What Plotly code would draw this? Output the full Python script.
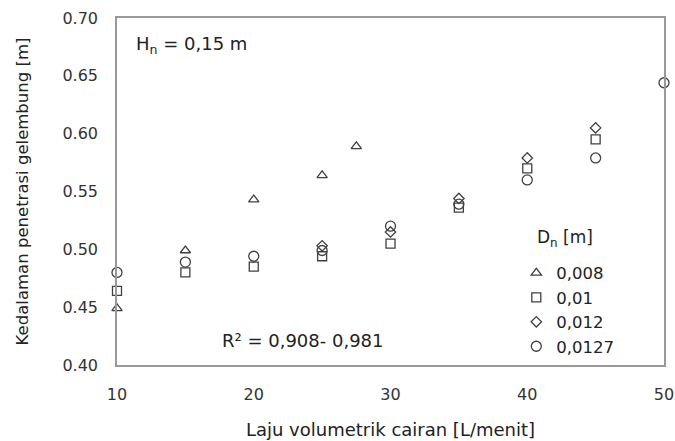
import plotly.graph_objects as go

x_008 = [10, 15, 20, 25, 27.5]
y_008 = [0.449, 0.499, 0.543, 0.564, 0.589]
x_010 = [10, 15, 20, 25, 30, 35, 40, 45]
y_010 = [0.464, 0.480, 0.485, 0.494, 0.505, 0.536, 0.570, 0.595]
x_012 = [25, 30, 35, 40, 45]
y_012 = [0.503, 0.515, 0.544, 0.579, 0.605]
x_0127 = [10, 15, 20, 25, 30, 35, 40, 45, 50]
y_0127 = [0.480, 0.489, 0.494, 0.499, 0.520, 0.539, 0.560, 0.579, 0.644]

font = "DejaVu Sans"
fig = go.Figure()
series = [
    ("0,008", x_008, y_008, "triangle-up-open", 9),
    ("0,01", x_010, y_010, "square-open", 9),
    ("0,012", x_012, y_012, "diamond-open", 8),
    ("0,0127", x_0127, y_0127, "circle-open", 10),
]
for name, xs, ys, sym, sz in series:
    fig.add_trace(go.Scatter(x=xs, y=ys, mode="markers", name=name,
                             marker=dict(symbol=sym, size=sz, color="#404040",
                                         line=dict(width=1.3, color="#404040")),
                             cliponaxis=False))

fig.update_layout(
    width=675, height=441,
    margin=dict(l=117, r=11, t=18, b=76, autoexpand=False),
    paper_bgcolor="white", plot_bgcolor="white",
    font=dict(family=font, size=16, color="#222222"),
    showlegend=True,
    legend=dict(x=0.73, y=0.315, xanchor="left", yanchor="top",
                font=dict(size=16.5), bgcolor="rgba(0,0,0,0)",
                itemwidth=30, tracegroupgap=0),
    xaxis=dict(range=[10, 50], tickvals=[10, 20, 30, 40, 50], showgrid=False,
               zeroline=False, showline=True, linecolor="#999999", linewidth=1.5,
               mirror=True, ticks="", ticklabelstandoff=14,
               tickfont=dict(size=16, color="#333333"),
               title=dict(text="Laju volumetrik cairan [L/menit]", standoff=20,
                          font=dict(size=18))),
    yaxis=dict(range=[0.40, 0.70], tickvals=[0.40, 0.45, 0.50, 0.55, 0.60, 0.65, 0.70],
               tickformat=".2f", showgrid=False, zeroline=False, showline=True,
               linecolor="#999999", linewidth=1.5, mirror=True, ticks="",
               ticklabelstandoff=14,
               tickfont=dict(size=16, color="#333333"),
               title=dict(text="Kedalaman penetrasi gelembung [m]", standoff=30,
                          font=dict(size=16.5))),
    annotations=[
        dict(text="H<sub>n</sub> = 0,15 m", x=0.031, y=0.922, xref="paper", yref="paper",
             xanchor="left", yanchor="middle", showarrow=False, font=dict(size=18)),
        dict(text="R² = 0,908- 0,981", x=0.188, y=0.072, xref="paper", yref="paper",
             xanchor="left", yanchor="middle", showarrow=False, font=dict(size=18)),
        dict(text="D<sub>n</sub> [m]", x=0.765, y=0.365, xref="paper", yref="paper",
             xanchor="left", yanchor="middle", showarrow=False, font=dict(size=17)),
    ],
)
fig.write_html("out.html")
